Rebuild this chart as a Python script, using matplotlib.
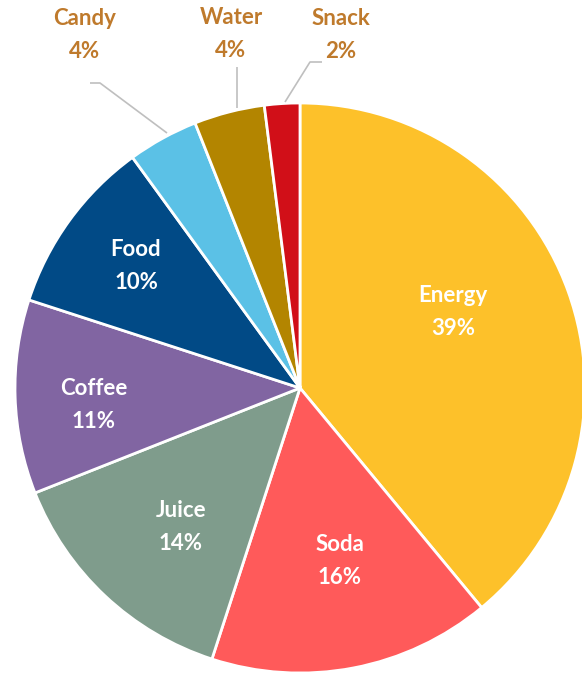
import matplotlib.pyplot as plt

# Slice data, clockwise from 12 o'clock
categories = ["Energy", "Soda", "Juice", "Coffee", "Food", "Candy", "Water", "Snack"]
shares = [39, 16, 14, 11, 10, 4, 4, 2]
colors = ["#FDC12A", "#FF5A5A", "#7F9C8C", "#8165A2", "#014A86",
          "#5BC1E6", "#B38500", "#D10F18"]

inner_labels = ["Energy", "Soda", "Juice", "Coffee", "Food"]
outer_labels = ["Candy", "Water", "Snack"]

W, H = 582, 673
fig = plt.figure(figsize=(W / 100, H / 100), dpi=100)
ax = fig.add_axes([0, 0, 1, 1])

cx, cy, r = 300, H - 388, 285

ax.pie(shares, colors=colors, startangle=90, counterclock=False,
       center=(cx, cy), radius=r, frame=True,
       wedgeprops=dict(edgecolor="white", linewidth=2))
ax.set_xlim(0, W)
ax.set_ylim(0, H)
ax.axis("off")

font = ["Lato", "DejaVu Sans"]

# label positions in pixel coordinates (from top)
inner_pos = {"Energy": (453, 312), "Soda": (340, 561), "Juice": (181, 527),
             "Coffee": (94, 405), "Food": (136, 266)}
outer_pos = {"Candy": (85, 35), "Water": (231, 34), "Snack": (341, 35)}

for name in inner_labels:
    x, y = inner_pos[name]
    pct = shares[categories.index(name)]
    ax.text(x, H - y, f"{name}\n{pct}%", ha="center", va="center",
            color="white", fontsize=16, fontweight="bold", family=font,
            linespacing=1.65)

label_color = "#BF7A2C"
for name in outer_labels:
    x, y = outer_pos[name]
    pct = shares[categories.index(name)]
    ax.text(x, H - y, f"{name}\n{pct}%", ha="center", va="center",
            color=label_color, fontsize=16, fontweight="bold", family=font,
            linespacing=1.65)

# leader lines
line_kw = dict(color="#BFBFBF", linewidth=1.2, solid_capstyle="butt")
ax.plot([90, 100, 167], [H - 83, H - 83, H - 133], **line_kw)
ax.plot([237, 237], [H - 67, H - 108], **line_kw)
ax.plot([322, 310, 285], [H - 62, H - 62, H - 102], **line_kw)

fig.savefig("out.png", dpi=100, facecolor="white")
